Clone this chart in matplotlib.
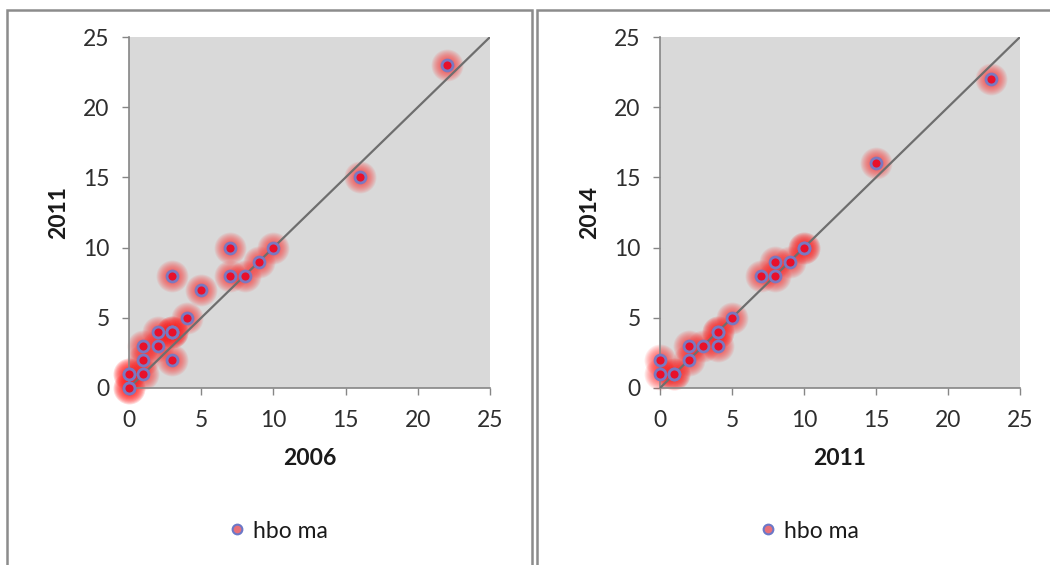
import matplotlib
matplotlib.use("Agg")
import matplotlib.pyplot as plt
from matplotlib.patches import Rectangle
from matplotlib.lines import Line2D

plt.rcParams['font.family'] = ['Lato', 'DejaVu Sans']

# Left panel: 2006 vs 2011
left_x = [22, 16, 7, 10, 3, 7, 8, 9, 5, 4, 3, 3, 3, 2, 1, 2, 3, 1, 1, 0, 0, 0, 0]
left_y = [23, 15, 10, 10, 8, 8, 8, 9, 7, 5, 4, 4, 4, 4, 3, 3, 2, 2, 1, 1, 1, 0, 0]
left_xlabel = "2006"
left_ylabel = "2011"

# Right panel: 2011 vs 2014
right_x = [23, 15, 10, 10, 9, 8, 8, 7, 5, 4, 4, 4, 3, 2, 2, 1, 1, 0, 0]
right_y = [22, 16, 10, 10, 9, 9, 8, 8, 5, 4, 4, 3, 3, 3, 2, 1, 1, 1, 2]
right_xlabel = "2011"
right_ylabel = "2014"

series_name = "hbo ma"
ticks = [0, 5, 10, 15, 20, 25]

W, H = 1050, 565
fig = plt.figure(figsize=(W / 100, H / 100), dpi=100)

# panel frames
fig.patches.append(Rectangle((7 / W, -0.05), (532 - 7) / W, 1.05 - 10 / H,
                             transform=fig.transFigure, fill=False,
                             edgecolor='#8c8c8c', lw=1.8, zorder=0))
fig.patches.append(Rectangle((537 / W, -0.05), 0.6, 1.05 - 10 / H,
                             transform=fig.transFigure, fill=False,
                             edgecolor='#8c8c8c', lw=1.8, zorder=0))

axis_col = '#868686'
txt_col = '#2e2e2e'


def draw_panel(ax, xs, ys, xl, yl, legend_center):
    ax.set_facecolor('#d9d9d9')
    ax.set_xlim(0, 25)
    ax.set_ylim(0, 25)
    ax.plot([0, 25], [0, 25], color='#6e6e6e', lw=1.6, zorder=3,
            solid_capstyle='butt')
    # glow halos
    n = 10
    for i in range(n):
        s = (23 - i * 1.4) ** 2
        ax.scatter(xs, ys, s=s, color='#ff2a2a', alpha=0.085, lw=0,
                   zorder=2, clip_on=False)
    ax.scatter(xs, ys, s=62, facecolor='#e8102a', edgecolor='#7a78c0',
               lw=2.0, zorder=4, clip_on=False)
    for sp in ['top', 'right']:
        ax.spines[sp].set_visible(False)
    for sp in ['left', 'bottom']:
        ax.spines[sp].set_color(axis_col)
        ax.spines[sp].set_linewidth(1.2)
    ax.set_xticks(ticks)
    ax.set_yticks(ticks)
    ax.tick_params(axis='both', direction='out', length=5, width=1,
                   color=axis_col, labelsize=16.5, labelcolor=txt_col)
    ax.tick_params(axis='x', pad=11)
    ax.tick_params(axis='y', pad=9)
    ax.set_xlabel(xl, fontsize=16.5, fontweight='bold', labelpad=12, color='#1a1a1a')
    ax.set_ylabel(yl, fontsize=16.5, fontweight='bold', labelpad=10, color='#1a1a1a')
    handle = Line2D([], [], ls='none', marker='o', markersize=7,
                    markerfacecolor='#e8707a', markeredgecolor='#6b78c8',
                    markeredgewidth=1.5)
    fig.legend([handle], [series_name], loc='center',
               bbox_to_anchor=(legend_center[0] / W, 1 - legend_center[1] / H),
               bbox_transform=fig.transFigure, frameon=False, fontsize=16.5,
               handletextpad=0.2, handlelength=1.0, labelcolor='#1a1a1a')


ax1 = fig.add_axes([129 / W, 1 - 388 / H, (490 - 129) / W, (388 - 37) / H])
ax2 = fig.add_axes([660 / W, 1 - 388 / H, (1020 - 660) / W, (388 - 37) / H])

draw_panel(ax1, left_x, left_y, left_xlabel, left_ylabel, (277, 531))
draw_panel(ax2, right_x, right_y, right_xlabel, right_ylabel, (808, 531))

fig.savefig("out.png", dpi=100)
